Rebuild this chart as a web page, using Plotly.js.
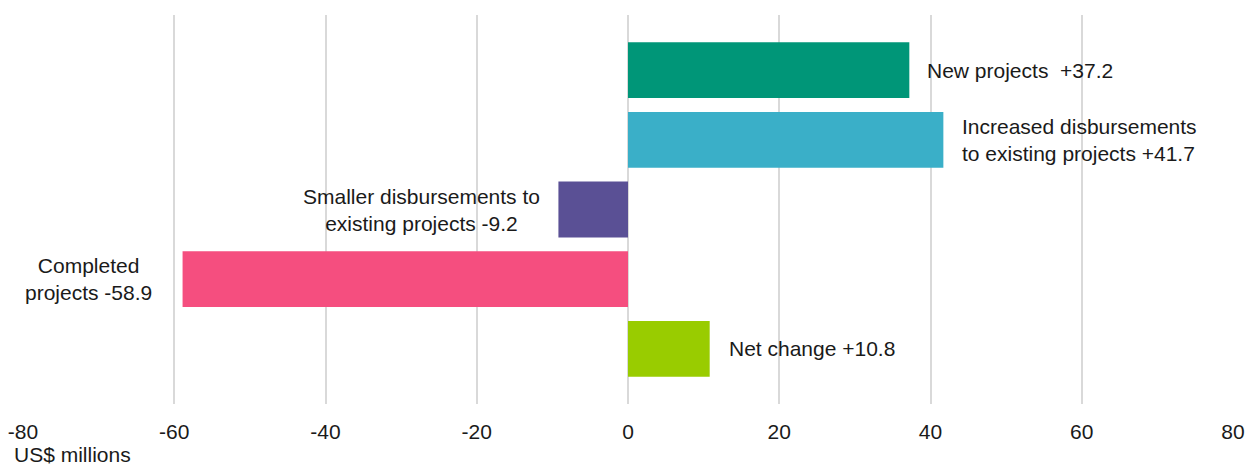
<!DOCTYPE html>
<html>
<head>
<meta charset="utf-8">
<script src="https://cdn.plot.ly/plotly-3.0.1.min.js"></script>
<style>html,body{margin:0;padding:0;background:#fff;}#chart{width:1247px;height:467px;}</style>
</head>
<body>
<div id="chart"></div>
<script>
const categories = ["New projects", "Increased disbursements", "Smaller disbursements", "Completed projects", "Net change"];
const values = [37.2, 41.7, -9.2, -58.9, 10.8];
const labels = ["New projects  +37.2", "Increased disbursements<br>to existing projects +41.7", "Smaller disbursements to<br>existing projects -9.2", "Completed<br>projects -58.9", "Net change +10.8"];
const colors = ["#009678", "#3AAFC8", "#5A5095", "#F54E7F", "#99CC00"];
const tickVals = [-80, -60, -40, -20, 0, 20, 40, 60, 80];
const xTitle = "US$ millions";

const pos = categories.map((c, i) => i);
const trace = {
  type: "bar",
  orientation: "h",
  x: values,
  y: pos,
  width: 0.8,
  marker: {color: colors},
  hoverinfo: "skip",
  text: categories,
  textposition: "none"
};

const font = {family: "Liberation Sans, Arial, sans-serif", size: 21, color: "#1a1a1a"};
const shifts = [16, 17, 16, 29, 17];
const annotations = values.map((v, i) => ({
  x: v, y: pos[i], xref: "x", yref: "y",
  text: labels[i], showarrow: false,
  xanchor: v >= 0 ? "left" : "right",
  xshift: v >= 0 ? shifts[i] : -shifts[i],
  align: v >= 0 ? "left" : "center",
  font: font
}));
annotations.push({
  xref: "paper", yref: "paper", x: 0, y: 0,
  xanchor: "left", yanchor: "middle", xshift: -10, yshift: -50,
  borderpad: 0,
  text: xTitle, showarrow: false, font: font
});

const layout = {
  width: 1247, height: 467,
  margin: {l: 23, r: 14, t: 15, b: 63},
  paper_bgcolor: "#fff", plot_bgcolor: "#fff",
  showlegend: false,
  font: font,
  xaxis: {
    range: [-80, 80], tickvals: tickVals, ticktext: tickVals.map(String),
    showgrid: true, gridcolor: "#d9d9d9", gridwidth: 2,
    zeroline: false, showline: false, ticks: "",
    tickfont: font, ticklabelstandoff: 13
  },
  yaxis: {
    range: [4.79, -0.79], showgrid: false, zeroline: false,
    showticklabels: false, ticks: "", showline: false
  },
  annotations: annotations
};
Plotly.newPlot("chart", [trace], layout, {staticPlot: true, displayModeBar: false});
</script>
</body>
</html>
